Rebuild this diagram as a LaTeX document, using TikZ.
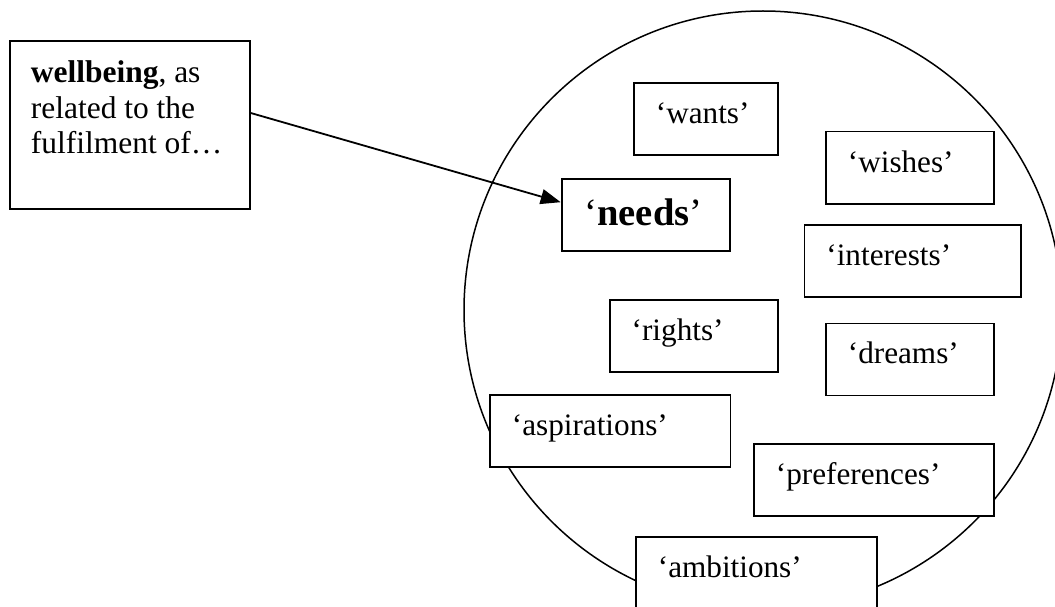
\documentclass[tikz,border=0pt]{standalone}
\usepackage{fontspec}
\setmainfont{Liberation Serif}
\usetikzlibrary{arrows.meta,calc}
\newdimen\px \px=0.75pt
\begin{document}
\begin{tikzpicture}[x=0.75pt,y=-0.75pt,
  tb/.style={draw=black, fill=white, line width=1.8\px, anchor=north west,
    inner xsep=22\px, inner ysep=0pt, text height=24\px, text depth=15\px,
    minimum height=72\px, align=left, text width=#1,
    font=\fontsize{23.4pt}{28pt}\selectfont},
  ring/.style={draw=black, line width=1.5\px},
  link/.style={draw=black, line width=1.8\px, -{Triangle[length=15pt,width=11.25pt]}}
]
\useasboundingbox (0,0) rectangle (1055,606);
\clip (0,0) rectangle (1055,606);
% big circle
\path[ring] (763,310) circle[radius=299\px];
% boxes inside the circle
\node[tb=100\px] (wants) at (633,82.3) {‘wants’};
\node[tb=124\px] (wishes) at (825,130.7) {‘wishes’};
\node[tb=122.3\px, inner xsep=23\px, text height=30\px, text depth=10\px,
      font=\fontsize{28.9pt}{34pt}\selectfont] (needs) at (560.7,178.3) {‘\textbf{needs}’};
\node[tb=172.5\px] (interests) at (803.5,224) {‘interests’};
\node[tb=124.5\px] (rights) at (608.8,299) {‘rights’};
\node[tb=124\px] (dreams) at (825,322.5) {‘dreams’};
\node[tb=196.5\px] (aspirations) at (489,394.3) {‘aspirations’};
\node[tb=196\px] (preferences) at (753,442.7) {‘preferences’};
\node[tb=197\px] (ambitions) at (635,536) {‘ambitions’};
% wellbeing box
\node[draw=black, fill=white, line width=1.8\px, anchor=north west,
      inner xsep=21\px, inner ysep=18\px, text height=24\px, text depth=108\px,
      font=\fontsize{23.6pt}{26.6pt}\selectfont] (wb) at (9,40)
  {\parbox[t]{198\px}{\raggedright\textbf{wellbeing}, as\\related to the\\fulfilment of…}};
% arrow
\path[link] ($(wb.north east)!0.43!(wb.south east)$) -- ($(needs.north west)!0.324!(needs.south west)$);
\end{tikzpicture}
\end{document}
